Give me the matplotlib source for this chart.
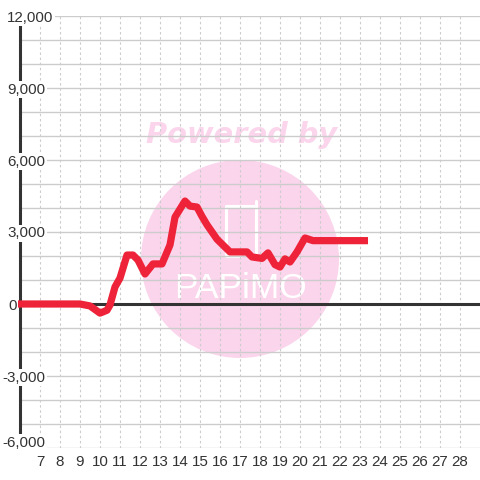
import matplotlib
matplotlib.use("Agg")
import matplotlib.pyplot as plt
from matplotlib.patches import Circle
from matplotlib.ticker import FuncFormatter

hours = [6, 9, 9.5, 10, 10.35, 10.5, 10.75, 11, 11.35, 11.65, 11.9, 12.25, 12.65, 13.1, 13.5,
         13.75, 14.25, 14.5, 14.85, 15.1, 15.35, 15.85, 16.5, 17.35, 17.6, 18.1, 18.4, 18.75, 19,
         19.25, 19.5, 19.85, 20.25, 20.65, 23.22]
values = [0, 0, -80, -380, -260, -40, 710, 1080, 2040, 2040, 1830, 1250, 1670, 1670, 2460,
          3620, 4290, 4080, 4040, 3650, 3300, 2700, 2170, 2170, 1960, 1900, 2130, 1640, 1540,
          1880, 1750, 2170, 2750, 2640, 2640]

x_ticks = list(range(7, 29))
y_grid = list(range(-6000, 12001, 1000))
y_labelled = list(range(-6000, 12001, 3000))

INK = "#333333"
GRID = "#cccccc"
RED = "#ee2238"
PINK = "#fbd5ec"
FONT = ["Liberation Sans", "DejaVu Sans"]

fig = plt.figure(figsize=(4.8, 4.8), dpi=100, facecolor="white")

# watermark layer in pixel coordinates
bg = fig.add_axes([0, 0, 1, 1], zorder=0)
bg.set_xlim(0, 480)
bg.set_ylim(480, 0)
bg.axis("off")
bg.add_patch(Circle((240, 259), 99, fc=PINK, ec="none"))
bg.text(242, 135, "Powered by", color=PINK, fontsize=20.8, family="DejaVu Sans",
        weight="bold", style="oblique", ha="center", va="center")
bg.plot([256, 256], [253, 201], color="white", lw=2.2, solid_capstyle="round")
bg.plot([256, 226, 226, 240], [206, 206, 256, 256], color="white", lw=2.2,
        solid_capstyle="round", solid_joinstyle="round")
bg.text(240.5, 289, "PAPiMO", color="white", fontsize=25.5, ha="center", va="center",
        family="Liberation Sans")

# chart layer
ax = fig.add_axes([20 / 480, (480 - 448) / 480, 460 / 480, 432 / 480], zorder=1)
ax.patch.set_alpha(0)
ax.set_xlim(6, 29)
ax.set_ylim(-6000, 12000)
for s in ("top", "right", "bottom"):
    ax.spines[s].set_visible(False)
ax.spines["left"].set_linewidth(2.2)
ax.spines["left"].set_color(INK)
ax.spines["left"].set_zorder(2)

ax.set_xticks(x_ticks)
ax.set_yticks(y_grid)
ax.set_yticklabels([])
ax.tick_params(axis="y", length=0)
ax.tick_params(axis="x", length=0, pad=5.2, labelsize=10.9, labelcolor=INK)
for t in ax.get_xticklabels():
    t.set_family(FONT)
ax.grid(axis="y", color=GRID, lw=1.0, zorder=1)
ax.grid(axis="x", color=GRID, lw=0.8, ls=(0, (2.2, 2.4)), zorder=1)
ax.set_axisbelow(True)

ax.axhline(0, color=INK, lw=2.2, zorder=3)
ax.plot(hours, values, color=RED, lw=5.2, zorder=4, clip_on=False,
        solid_capstyle="projecting", solid_joinstyle="round")

fmt = FuncFormatter(lambda v, _: f"{int(v):,}")
for v in y_labelled:
    px = 2 if v < 0 else 7
    if v == 0:
        px = 8
    ax.annotate(fmt(v), xy=(0, v), xycoords=ax.get_yaxis_transform(),
                xytext=(px - 20, 0 if v != -6000 else 6.5), textcoords="offset pixels",
                ha="left", va="center_baseline", fontsize=10.9, color=INK, family=FONT,
                zorder=5, bbox=dict(fc="white", ec="none", pad=1.2))

fig.savefig("out.png", dpi=100)
